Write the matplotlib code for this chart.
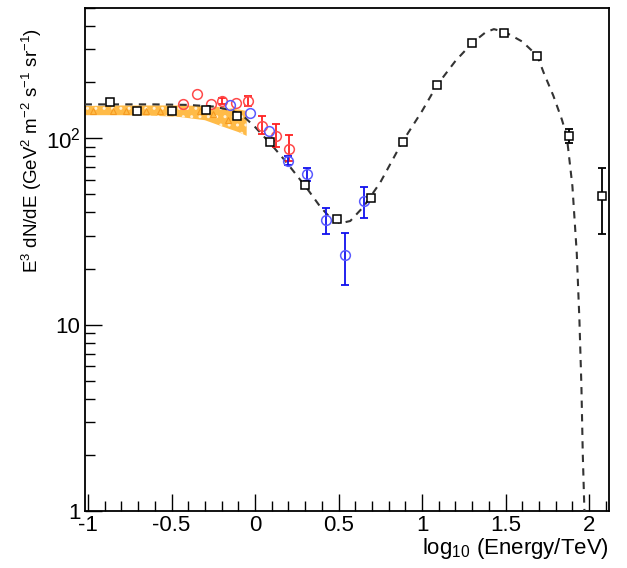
#!/usr/bin/env python3
"""Spectrum E^3 dN/dE vs log10(E/TeV) with model curve, three data sets and a band."""

import numpy as np
import matplotlib
matplotlib.use("Agg")
import matplotlib.pyplot as plt
from matplotlib.ticker import FixedLocator, MultipleLocator, FuncFormatter

# black squares (error bars only on the two highest points)
SQ_X = [-0.868, -0.707, -0.499, -0.295, -0.106, 0.090, 0.299, 0.493, 0.693,
        0.884, 1.092, 1.298, 1.491, 1.690, 1.882, 2.076]
SQ_Y = [156, 140, 140, 142, 132, 96, 56, 37, 48, 95, 193, 324, 367, 277, 103, 49]
SQ_LO = [0, 0, 0, 0, 0, 0, 0, 0, 0, 0, 0, 0, 0, 0, 9, 18.5]
SQ_HI = [0, 0, 0, 0, 0, 0, 0, 0, 0, 0, 0, 0, 0, 0, 9, 20]

# red circles
RED_X = [-0.429, -0.346, -0.265, -0.196, -0.116, -0.040, 0.040, 0.126, 0.205]
RED_Y = [152, 172, 152, 159, 154, 159, 117, 103, 88]
RED_LO = [0, 0, 0, 6, 0, 10, 12, 13.5, 12]
RED_HI = [0, 0, 0, 6, 0, 10, 15, 16, 16]

# blue circles
BLUE_X = [-0.150, -0.032, 0.082, 0.199, 0.310, 0.425, 0.539, 0.653]
BLUE_Y = [151, 136, 109, 76, 64, 36.4, 23.8, 46]
BLUE_LO = [0, 0, 0, 4, 5, 5.9, 7.4, 8.5]
BLUE_HI = [0, 0, 0, 4, 5.6, 6.0, 7.3, 9]

# orange band
BAND_X = [-1.02, -0.8, -0.6, -0.45, -0.3, -0.2, -0.1, -0.05]
BAND_TOP = [149, 150, 150, 150, 149, 147, 143, 140]
BAND_BOT = [133, 133, 132, 130, 125, 116, 108, 103]
TRI_X = [-0.97, -0.85, -0.77, -0.65, -0.57, -0.33, -0.25, -0.16]
TRI_Y = [140, 140, 140, 140, 140, 140, 135, 125]

# dashed model curve
CURVE_X = [-1.02, -0.8, -0.6, -0.4, -0.25, -0.15, -0.08, 0.0, 0.1, 0.19, 0.31,
           0.39, 0.45, 0.51, 0.57, 0.65, 0.75, 0.88, 1.0, 1.09, 1.2, 1.3, 1.38,
           1.43, 1.5, 1.6, 1.69, 1.727, 1.786, 1.837, 1.866, 1.900, 1.926,
           1.942, 1.954, 1.962, 1.972]
CURVE_Y = [152, 152, 152, 151, 148, 142, 134, 115, 92, 74, 54, 43, 37.5, 35,
           36, 43, 58, 95, 140, 193, 260, 324, 370, 385, 370, 330, 277, 226,
           169, 126, 103, 55.4, 24.3, 10.6, 4.66, 2.04, 1.0]

YLABELS = {1: "1", 10: "10", 100: r"$10^2$"}


def points(ax, x, y, lo, hi, marker, ms, mfc, mec, ecol, z):
    x, y, lo, hi = map(np.asarray, (x, y, lo, hi))
    ax.plot(x, y, ls="none", marker=marker, ms=ms, mfc=mfc, mec=mec, mew=1.1,
            zorder=z + 0.5)
    has = (lo > 0) | (hi > 0)
    ax.errorbar(x[has], y[has], yerr=[lo[has], hi[has]], fmt="none",
                ecolor=ecol, elinewidth=1.3, capsize=3, capthick=1.3, zorder=z)


def main():
    plt.rcParams.update({
        "font.family": ["Liberation Sans", "DejaVu Sans"],
        "font.size": 12,
        "mathtext.fontset": "custom",
        "mathtext.rm": "Liberation Sans",
        "mathtext.it": "Liberation Sans",
        "hatch.linewidth": 1.0,
    })
    fig = plt.figure(figsize=(6.27, 5.68), dpi=100)
    ax = fig.add_axes([0.135, 0.100, 0.836, 0.886])

    ax.fill_between(BAND_X, BAND_BOT, BAND_TOP, facecolor="#ffbb48",
                    edgecolor="#fff1d6", hatch="..", linewidth=0, zorder=1)
    ax.plot(TRI_X, TRI_Y, ls="none", marker="^", ms=5, mfc="none",
            mec="#f59a20", mew=0.8, zorder=2)

    ax.plot(CURVE_X, CURVE_Y, color="#333333", ls=(0, (3.5, 3)), lw=1.5, zorder=3)

    points(ax, RED_X, RED_Y, RED_LO, RED_HI, "o", 7, "none", "#ff4a4a", "#ff2020", 4)
    points(ax, BLUE_X, BLUE_Y, BLUE_LO, BLUE_HI, "o", 7, "none", "#5a5aff", "#1010ee", 4)
    points(ax, SQ_X, SQ_Y, SQ_LO, SQ_HI, "s", 6.3, "white", "black", "black", 5)

    ax.set_yscale("log")
    ax.set_xlim(-1.02, 2.118)
    ax.set_ylim(1, 500)

    ax.xaxis.set_major_locator(MultipleLocator(0.5))
    ax.xaxis.set_minor_locator(MultipleLocator(0.1))
    ax.xaxis.set_major_formatter(FuncFormatter(lambda v, p: f"{v:g}"))
    ax.yaxis.set_major_locator(FixedLocator([1, 10, 100]))
    ax.yaxis.set_major_formatter(FuncFormatter(lambda v, p: YLABELS.get(int(round(v)), "")))

    ax.tick_params(which="both", direction="in", top=False, right=False,
                   width=1.0, labelsize=16, pad=3)
    ax.tick_params(which="major", length=12)
    ax.tick_params(which="minor", length=7)
    for s in ax.spines.values():
        s.set_linewidth(1.3)

    ax.set_xlabel(r"log$_{10}$ (Energy/TeV)", fontsize=16, loc="right", labelpad=0)
    ax.set_ylabel(r"E$^3$ dN/dE (GeV$^2$ m$^{-2}$ s$^{-1}$ sr$^{-1}$)",
                  fontsize=13.5, loc="top")
    ax.yaxis.set_label_coords(-0.078, 0.96)

    fig.savefig("out.png", dpi=100)
    plt.close(fig)


if __name__ == "__main__":
    main()
